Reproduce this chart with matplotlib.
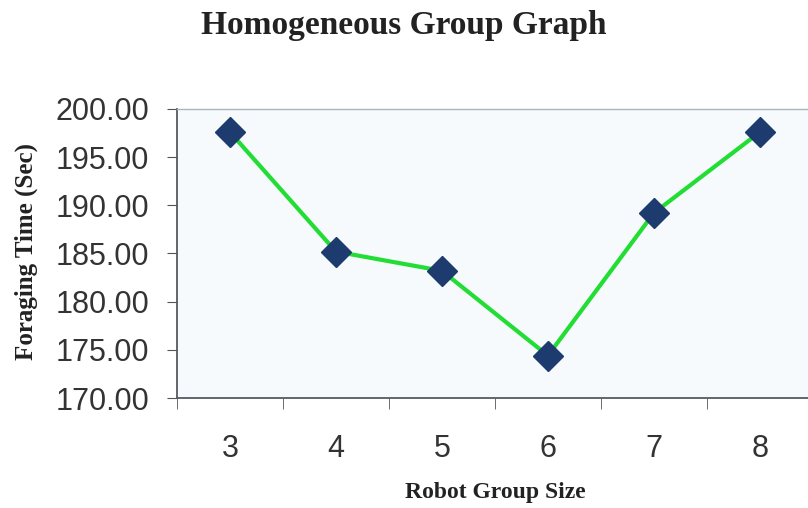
import matplotlib.pyplot as plt

group_sizes = ['3', '4', '5', '6', '7', '8']
foraging_time = [197.6, 185.2, 183.2, 174.4, 189.2, 197.6]
y_ticks = [170, 175, 180, 185, 190, 195, 200]

fig = plt.figure(figsize=(8.08, 5.08), dpi=100)
ax = fig.add_axes([0.219, 0.2165, 0.787, 0.569])
ax.set_facecolor('#f6fafd')

x = range(len(group_sizes))
ax.plot(x, foraging_time, color='#22dd33', lw=3.0, zorder=2)
ax.plot(x, foraging_time, ls='none', marker='D', ms=15,
        color='#1d3b6e', zorder=3)

ax.set_xlim(-0.5, len(group_sizes) - 0.5)
ax.set_ylim(170, 200)
ax.set_yticks(y_ticks)
ax.set_yticklabels([f'{v:.2f}' for v in y_ticks])
ax.set_xticks(x)
ax.set_xticklabels(group_sizes)
# category ticks sit between the groups
ax.set_xticks([i - 0.5 for i in range(len(group_sizes) + 1)], minor=True)
ax.tick_params(axis='x', which='major', length=0, pad=26)
ax.tick_params(axis='x', which='minor', length=8, color='#555555')
ax.tick_params(axis='y', length=7, color='#555555', pad=13)
for lbl in ax.get_xticklabels() + ax.get_yticklabels():
    lbl.set_family('Liberation Sans')
    lbl.set_fontsize(22)
    lbl.set_color('#333333')

for side in ['left', 'bottom']:
    ax.spines[side].set_color('#555a60')
    ax.spines[side].set_linewidth(1.3)
for side in ['top', 'right']:
    ax.spines[side].set_color('#a9b4bc')
    ax.spines[side].set_linewidth(1.0)

serif = dict(family='Liberation Serif', weight='bold', color='#222222')
fig.text(0.5, 0.949, 'Homogeneous Group Graph', ha='center', va='center',
         fontsize=24, **serif)
fig.text(0.613, 0.031, 'Robot Group Size', ha='center', va='center',
         fontsize=17, **serif)
fig.text(0.032, 0.505, 'Foraging Time (Sec)', ha='center', va='center',
         rotation=90, fontsize=18, **serif)

fig.savefig('out.png', dpi=100)
